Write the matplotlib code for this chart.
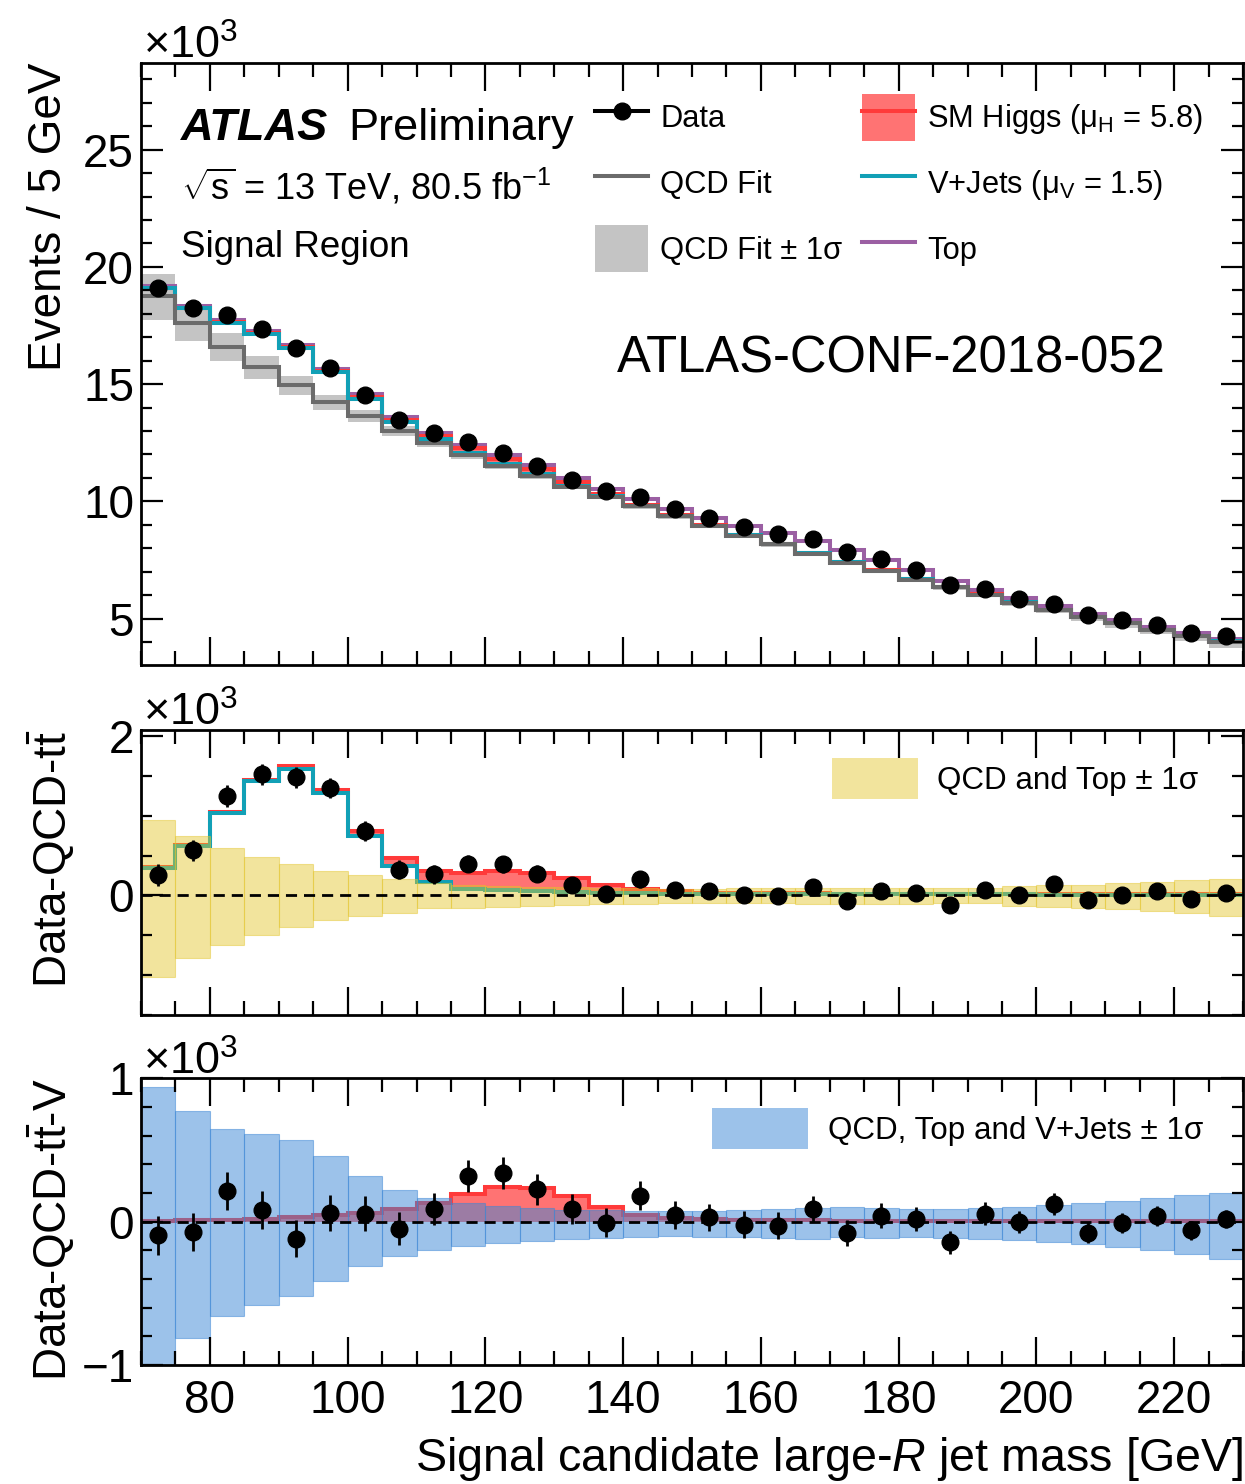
import numpy as np
import matplotlib
matplotlib.use('Agg')
import matplotlib.pyplot as plt
from matplotlib.lines import Line2D
from matplotlib.patches import Patch
from matplotlib.ticker import MultipleLocator

plt.rcParams['font.family'] = ['Liberation Sans', 'DejaVu Sans']
plt.rcParams['mathtext.fontset'] = 'custom'
plt.rcParams['mathtext.rm'] = 'Liberation Sans'
plt.rcParams['mathtext.it'] = 'Liberation Sans:italic'
plt.rcParams['mathtext.bf'] = 'Liberation Sans:bold'

# bin edges of the large-R jet mass [GeV]
edges = [70, 75, 80, 85, 90, 95, 100, 105, 110, 115, 120, 125, 130, 135, 140, 145,
         150, 155, 160, 165, 170, 175, 180, 185, 190, 195, 200, 205, 210, 215, 220, 225, 230]

# all values in units of 10^3 events
data = [19.10, 18.23, 17.95, 17.34, 16.54, 15.70, 14.55, 13.49, 12.92, 12.55, 12.06, 11.49,
        10.93, 10.42, 10.20, 9.69, 9.31, 8.92, 8.61, 8.40, 7.86, 7.55, 7.06, 6.45,
        6.24, 5.84, 5.64, 5.14, 4.94, 4.73, 4.40, 4.26]
data_err = [0.138, 0.135, 0.134, 0.132, 0.129, 0.125, 0.121, 0.116, 0.114, 0.112, 0.110, 0.107,
            0.105, 0.102, 0.101, 0.098, 0.096, 0.094, 0.093, 0.092, 0.089, 0.087, 0.084, 0.080,
            0.079, 0.076, 0.075, 0.072, 0.070, 0.069, 0.066, 0.065]
qcd = [18.76, 17.62, 16.59, 15.72, 14.95, 14.22, 13.63, 13.02, 12.48, 11.98, 11.52, 11.10,
       10.63, 10.19, 9.78, 9.36, 8.94, 8.54, 8.16, 7.77, 7.39, 7.03, 6.66, 6.33,
       6.01, 5.68, 5.37, 5.07, 4.79, 4.52, 4.26, 4.02]
top = [0.06, 0.07, 0.08, 0.09, 0.10, 0.11, 0.12, 0.13, 0.14, 0.15, 0.15, 0.16,
       0.17, 0.20, 0.23, 0.27, 0.32, 0.38, 0.45, 0.50, 0.52, 0.46, 0.37, 0.27,
       0.20, 0.16, 0.14, 0.13, 0.12, 0.12, 0.11, 0.11]
vjets = [0.35, 0.62, 1.03, 1.43, 1.59, 1.28, 0.75, 0.375, 0.17, 0.085, 0.065, 0.05,
         0.04, 0.03, 0.025, 0.022, 0.02, 0.02, 0.018, 0.017, 0.016, 0.015, 0.014, 0.013,
         0.012, 0.012, 0.011, 0.01, 0.01, 0.01, 0.009, 0.009]
higgs = [0.005, 0.01, 0.015, 0.02, 0.035, 0.045, 0.06, 0.088, 0.13, 0.195, 0.24, 0.237,
         0.176, 0.102, 0.05, 0.028, 0.016, 0.012, 0.01, 0.009, 0.008, 0.007, 0.006, 0.006,
         0.005, 0.005, 0.004, 0.004, 0.004, 0.003, 0.003, 0.003]

# QCD (+top) fit uncertainty, up / down
qt_up = [0.94, 0.75, 0.60, 0.48, 0.39, 0.31, 0.25, 0.21, 0.15, 0.13, 0.12, 0.11,
         0.10, 0.09, 0.09, 0.085, 0.085, 0.09, 0.09, 0.09, 0.096, 0.096, 0.096, 0.09,
         0.095, 0.117, 0.13, 0.13, 0.15, 0.167, 0.19, 0.20]
qt_dn = [1.02, 0.79, 0.62, 0.50, 0.40, 0.31, 0.26, 0.22, 0.16, 0.155, 0.14, 0.133,
         0.117, 0.104, 0.104, 0.096, 0.092, 0.10, 0.10, 0.11, 0.104, 0.104, 0.104, 0.10,
         0.095, 0.133, 0.146, 0.16, 0.175, 0.196, 0.225, 0.26]
# QCD, top and V+jets uncertainty, up / down
qtv_up = [0.94, 0.77, 0.65, 0.61, 0.57, 0.46, 0.32, 0.218, 0.165, 0.128, 0.107, 0.095,
          0.079, 0.079, 0.072, 0.072, 0.074, 0.079, 0.086, 0.093, 0.10, 0.095, 0.09, 0.09,
          0.095, 0.102, 0.114, 0.13, 0.144, 0.165, 0.183, 0.202]
qtv_dn = [1.05, 0.81, 0.66, 0.58, 0.52, 0.415, 0.31, 0.239, 0.197, 0.169, 0.148, 0.135,
          0.12, 0.111, 0.107, 0.10, 0.107, 0.107, 0.114, 0.12, 0.107, 0.111, 0.107, 0.114,
          0.123, 0.13, 0.142, 0.158, 0.176, 0.20, 0.223, 0.258]

# residual panels
resid_qcd_top = [0.254, 0.566, 1.246, 1.517, 1.479, 1.346, 0.808, 0.325, 0.263, 0.40, 0.39, 0.27,
                 0.13, 0.02, 0.20, 0.07, 0.05, 0.00, -0.01, 0.11, -0.07, 0.05, 0.03, -0.125,
                 0.07, 0.01, 0.14, -0.06, 0.00, 0.05, -0.05, 0.03]
resid_all = [-0.095, -0.072, 0.216, 0.079, -0.118, 0.06, 0.056, -0.049, 0.088, 0.316, 0.339, 0.227,
             0.09, -0.007, 0.181, 0.046, 0.03, -0.021, -0.028, 0.088, -0.079, 0.042, 0.016, -0.144,
             0.056, -0.002, 0.125, -0.077, -0.009, 0.042, -0.06, 0.019]

edges = np.array(edges, dtype=float)
centers = 0.5 * (edges[:-1] + edges[1:])
data = np.array(data); qcd = np.array(qcd); top = np.array(top)
vjets = np.array(vjets); higgs = np.array(higgs)
qt_up = np.array(qt_up); qt_dn = np.array(qt_dn)
qtv_up = np.array(qtv_up); qtv_dn = np.array(qtv_dn)

c_gray = '#6b6b6b'
c_band = '#c4c4c4'
c_teal = '#12a0b6'
c_purple = '#9b5fa3'
c_red = '#ff3a3a'
c_yellow = '#e3c427'
c_blue = '#3a86d6'
lw = 2.9

fig = plt.figure(figsize=(12.45, 14.84), dpi=100)
ax1 = fig.add_axes([0.1133, 0.5519, 0.8851, 0.4057])
ax2 = fig.add_axes([0.1133, 0.3160, 0.8851, 0.1924])
ax3 = fig.add_axes([0.1133, 0.0802, 0.8851, 0.1931])


def style(ax, ymajor, yminor, labelx):
    ax.set_xlim(70, 230)
    ax.xaxis.set_major_locator(MultipleLocator(20))
    ax.xaxis.set_minor_locator(MultipleLocator(5))
    ax.yaxis.set_major_locator(MultipleLocator(ymajor))
    ax.yaxis.set_minor_locator(MultipleLocator(yminor))
    ax.tick_params(which='both', direction='in', top=True, right=True, width=1.6,
                   labelsize=33)
    ax.tick_params(axis='x', which='major', length=20, pad=10)
    ax.tick_params(axis='x', which='minor', length=10)
    ax.tick_params(axis='y', which='major', length=16, pad=5)
    ax.tick_params(axis='y', which='minor', length=8)
    for sp in ax.spines.values():
        sp.set_linewidth(2)
    ax.annotate(r'$\times$10$^{3}$', xy=(0, 1), xycoords='axes fraction',
                xytext=(2, -5), textcoords='offset pixels', fontsize=32.5,
                ha='left', va='bottom')
    ax.yaxis.set_label_coords(labelx, 1.0)


# ---- top panel ----
ax1.stairs(qcd + qt_up, edges, baseline=qcd - qt_dn, fill=True, color=c_band, lw=0)
total = qcd + vjets + higgs + top
ax1.stairs(total, edges, baseline=None, color=c_purple, lw=lw)
ax1.stairs(qcd + vjets + higgs, edges, baseline=qcd + vjets, fill=True, color='red',
           alpha=0.55, lw=0)
ax1.stairs(qcd + vjets + higgs, edges, baseline=None, color=c_red, lw=lw)
ax1.stairs(qcd + vjets, edges, baseline=None, color=c_teal, lw=lw)
ax1.stairs(qcd, edges, baseline=None, color=c_gray, lw=lw)
ax1.errorbar(centers, data, yerr=data_err, fmt='o', color='k', ms=12, elinewidth=2,
             capsize=0, zorder=5)
ax1.set_ylim(3.02, 28.7)
style(ax1, 5, 1, -0.064)
ax1.tick_params(axis='x', labelbottom=False)
ax1.set_ylabel('Events / 5 GeV', fontsize=33, loc='top')

ax1.text(0.0363, 0.872, 'ATLAS', transform=ax1.transAxes, fontsize=32.5,
         fontweight='bold', fontstyle='italic', va='baseline')
ax1.text(0.188, 0.872, 'Preliminary', transform=ax1.transAxes, fontsize=32.5,
         va='baseline')
ax1.text(0.0363, 0.7724, r'$\sqrt{\mathrm{s}}$ = 13 TeV, 80.5 fb$^{-1}$', transform=ax1.transAxes,
         fontsize=26, va='baseline')
ax1.text(0.0363, 0.678, 'Signal Region', transform=ax1.transAxes, fontsize=26.5,
         va='baseline')
ax1.text(0.432, 0.485, 'ATLAS-CONF-2018-052', transform=ax1.transAxes, fontsize=36.5,
         va='baseline')

h_data = Line2D([], [], color='k', marker='o', ms=12, lw=lw)
h_qcd = Line2D([], [], color=c_gray, lw=lw)
h_band = Patch(facecolor=c_band, lw=0)
h_higgs = (Patch(facecolor='red', alpha=0.55, lw=0), Line2D([], [], color=c_red, lw=lw))
h_v = Line2D([], [], color=c_teal, lw=lw)
h_top = Line2D([], [], color=c_purple, lw=lw)
leg_kw = dict(loc='upper left', frameon=False, fontsize=22.2, handlelength=1.72,
              handleheight=1.95, handletextpad=0.4, labelspacing=0.62, borderpad=0,
              borderaxespad=0)
leg1 = ax1.legend([h_data, h_qcd, h_band], ['Data', 'QCD Fit', 'QCD Fit ± 1σ'],
                  bbox_to_anchor=(0.412, 0.9485), **leg_kw)
ax1.add_artist(leg1)
ax1.legend([h_higgs, h_v, h_top],
           [r'SM Higgs (μ$_{\mathrm{H}}$ = 5.8)', r'V+Jets (μ$_{\mathrm{V}}$ = 1.5)', 'Top'],
           bbox_to_anchor=(0.654, 0.9485), **leg_kw)

# ---- middle panel: Data - QCD - ttbar ----
ax2.stairs(vjets + higgs, edges, baseline=vjets, fill=True, color='red', alpha=0.55, lw=0)
ax2.stairs(vjets + higgs, edges, baseline=None, color=c_red, lw=lw)
ax2.stairs(vjets, edges, baseline=None, color=c_teal, lw=lw)
ax2.bar(centers, qt_up + qt_dn, bottom=-qt_dn, width=5, color=c_yellow, alpha=0.45,
        edgecolor=c_yellow, linewidth=0.8)
ax2.axhline(0, color='k', ls=(0, (4, 2.5)), lw=2)
ax2.errorbar(centers, resid_qcd_top, yerr=data_err, fmt='o', color='k', ms=12,
             elinewidth=2, capsize=0, zorder=5)
ax2.set_ylim(-1.5, 2.08)
style(ax2, 2, 0.5, -0.059)
ax2.tick_params(axis='x', labelbottom=False)
ax2.set_ylabel(r'Data-QCD-t$\bar{\mathrm{t}}$', fontsize=33, loc='top')
ax2.legend([Patch(facecolor=c_yellow, alpha=0.45, lw=0)], ['QCD and Top ± 1σ'],
           loc='upper left', bbox_to_anchor=(0.627, 0.90), frameon=False, fontsize=22.6,
           handlelength=2.75, handleheight=1.62, handletextpad=0.6, borderpad=0,
           borderaxespad=0)

# ---- bottom panel: Data - QCD - ttbar - V ----
ax3.stairs(higgs, edges, baseline=0, fill=True, color='red', alpha=0.55, lw=0)
ax3.stairs(higgs, edges, baseline=None, color=c_red, lw=lw)
ax3.bar(centers, qtv_up + qtv_dn, bottom=-qtv_dn, width=5, color=c_blue, alpha=0.5,
        edgecolor=c_blue, linewidth=0.8)
ax3.axhline(0, color='k', ls=(0, (4, 2.5)), lw=2)
ax3.errorbar(centers, resid_all, yerr=data_err, fmt='o', color='k', ms=12,
             elinewidth=2, capsize=0, zorder=5)
ax3.set_ylim(-1.0, 1.0)
style(ax3, 1, 0.2, -0.059)
ax3.set_ylabel(r'Data-QCD-t$\bar{\mathrm{t}}$-V', fontsize=33, loc='top')
ax3.set_xlabel(r'Signal candidate large-$R$ jet mass [GeV]', fontsize=33.6, loc='right',
               labelpad=9)
ax3.legend([Patch(facecolor=c_blue, alpha=0.5, lw=0)], ['QCD, Top and V+Jets ± 1σ'],
           loc='upper left', bbox_to_anchor=(0.518, 0.897), frameon=False, fontsize=22.6,
           handlelength=3.05, handleheight=1.63, handletextpad=0.65, borderpad=0,
           borderaxespad=0)

fig.savefig('out.png', dpi=100)
